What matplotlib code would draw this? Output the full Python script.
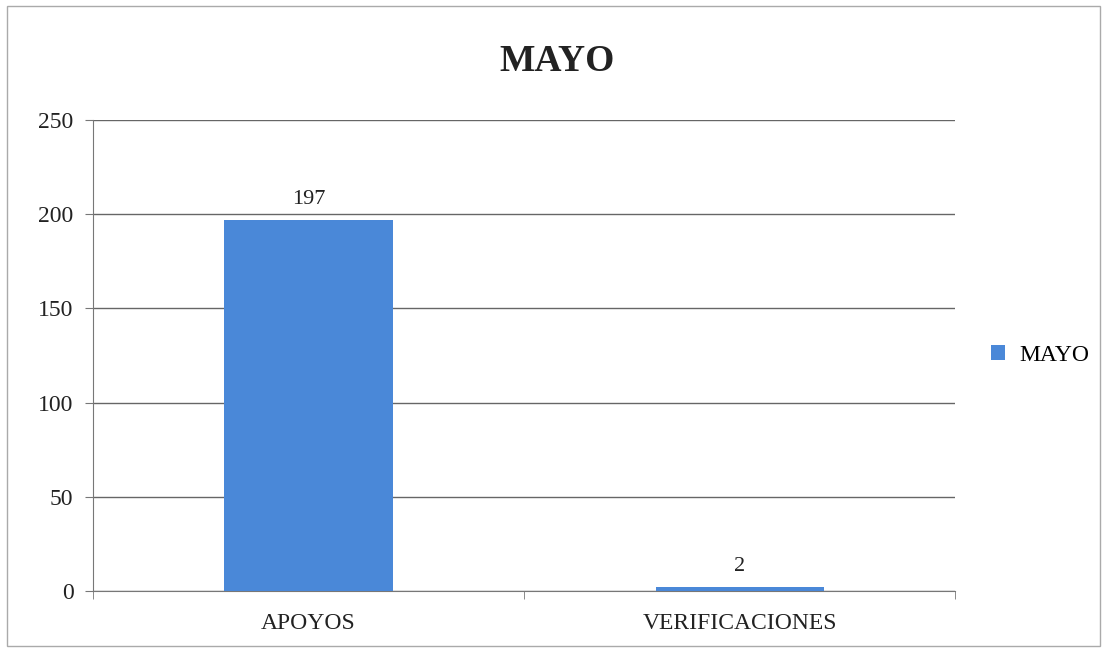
import matplotlib.pyplot as plt
from matplotlib.patches import Rectangle

categories = ["APOYOS", "VERIFICACIONES"]
values = [197, 2]
series_name = "MAYO"
title = "MAYO"

plt.rcParams['font.family'] = ['Liberation Serif', 'DejaVu Serif']

fig = plt.figure(figsize=(11.07, 6.5), dpi=100)
ax = fig.add_axes([0.084, 0.091, 0.779, 0.724])

x = list(range(len(categories)))
bars = ax.bar(x, values, width=0.39, color="#4a88d8", label=series_name, zorder=3)

for xi, v in zip(x, values):
    ax.text(xi, v + 6, str(v), ha="center", va="bottom", fontsize=16, color="#222222")

ax.set_xlim(-0.5, len(categories) - 0.5)
ax.set_ylim(0, 250)
ax.set_yticks(range(0, 251, 50))
ax.tick_params(axis="y", labelsize=17, length=6, color="#777777", pad=8, labelcolor="#222222")
ax.set_xticks(x)
ax.set_xticklabels(categories, fontsize=17, color="#222222")
ax.tick_params(axis="x", length=0, pad=16)
# category boundary ticks
ax.set_xticks([-0.5, 0.5, 1.5], minor=True)
ax.tick_params(axis="x", which="minor", length=6, color="#777777")

ax.grid(axis="y", color="#666666", linewidth=1.0, zorder=0)
for side in ["top", "right"]:
    ax.spines[side].set_visible(False)
ax.spines["left"].set_color("#777777")
ax.spines["bottom"].set_color("#777777")

fig.text(0.503, 0.905, title, ha="center", va="center", fontsize=27,
         fontweight="bold", color="#222222")

ax.legend(loc="center left", bbox_to_anchor=(1.017, 0.5), frameon=False,
          fontsize=17, handlelength=0.6, handleheight=0.6, handletextpad=0.6)

# outer chart border
fig.patches.append(Rectangle((0.006, 0.006), 0.988, 0.985, transform=fig.transFigure,
                             fill=False, edgecolor="#aaaaaa", linewidth=1.0))

plt.savefig("out.png", dpi=100)
